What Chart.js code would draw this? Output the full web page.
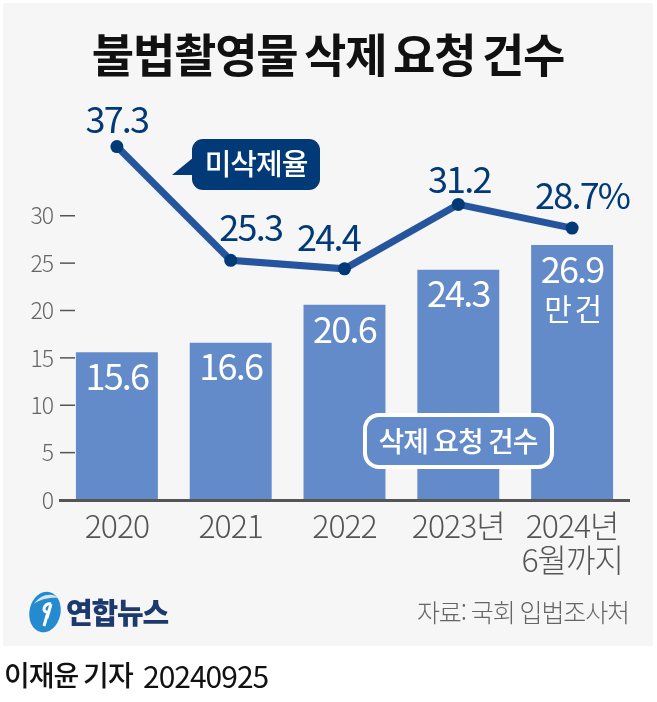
<!DOCTYPE html>
<html lang="ko">
<head>
<meta charset="utf-8">
<title>불법촬영물 삭제 요청 건수</title>
<script src="https://cdn.jsdelivr.net/npm/chart.js@4"></script>
<style>
    html, body { margin:0; padding:0; background:#fff; }
    body { width:657px; height:702px; position:relative; overflow:hidden;
           font-family:"Noto Sans CJK KR", sans-serif; }
    #panel { position:absolute; left:3px; top:3px; width:650px; height:643px; background:#f6f6f6; }
    #chart { position:absolute; left:0; top:0; }
    .txt { position:absolute; white-space:nowrap; line-height:1; }
    #title { left:0; width:656px; text-align:center; top:29px; font-size:46px; font-weight:700; color:#111; letter-spacing:-1.2px; word-spacing:-5px; }
    #source { right:28px; top:599px; font-size:25px; font-weight:300; color:#666; letter-spacing:-1.1px; word-spacing:-1px; }
    #brand { left:66px; top:597px; font-size:29px; font-weight:900; color:#1d3a6e; letter-spacing:-1.2px; }
    #byline { left:4px; top:660px; font-size:28px; font-weight:500; color:#111; letter-spacing:-1px; word-spacing:-2px; }
    #date { left:143px; top:660px; font-size:30px; font-weight:400; color:#111; letter-spacing:-1px; }
    #logo { position:absolute; left:26px; top:590px; }
</style>
</head>
<body>
<div id="panel"></div>
<canvas id="chart" width="657" height="702"></canvas>
<div class="txt" id="title">불법촬영물 삭제 요청 건수</div>
<svg id="logo" width="38" height="44" viewBox="0 0 38 44">
    <ellipse cx="19" cy="22" rx="15.5" ry="20.5" transform="rotate(12 19 22)" fill="#258bd0"/>
    <path d="M8 14 C14 4 27 2 32 8 C25 7 14 9 8 14Z" fill="#fff" opacity=".8"/>
    <path d="M25 14 C18 12 15 23 22 22 L18 36 M25 14 L21 28" fill="none" stroke="#fff" stroke-width="3"/>
</svg>
<div class="txt" id="brand">연합뉴스</div>
<div class="txt" id="source">자료: 국회 입법조사처</div>
<div class="txt" id="byline">이재윤 기자</div>
<div class="txt" id="date">20240925</div>

<script>
// =========================================
// DATA
// =========================================

const categories = ["2020", "2021", "2022", "2023년", ["2024년", "6월까지"]];
const requestCounts = [15.6, 16.6, 20.6, 24.3, 26.9];
const undeletedRates = [37.3, 25.3, 24.4, 31.2, 28.7];
const yTicks = [0, 5, 10, 15, 20, 25, 30];

const lineLabels = ["37.3", "25.3", "24.4", "31.2", "28.7%"];
const barLabels = ["15.6", "16.6", "20.6", "24.3", "26.9"];
const unitLabel = "만 건";
const lineCallout = "미삭제율";
const barCallout = "삭제 요청 건수";

// label nudges from the point, in px
const lineLabelDx = [0, 20, -16, 1, 10];
const lineLabelDy = [-27, -33, -31, -25, -33];

// =========================================
// COLORS
// =========================================

const NAVY = "#023a78";
const LINE = "#25559c";
const BAR = "#648bc9";
const FONT = '"Noto Sans CJK KR", sans-serif';

// =========================================
// PLUGINS
// =========================================

const tickMarks = {
    id: "tickMarks",
    beforeDatasetsDraw(chart) {
        const { ctx, scales, chartArea } = chart;
        ctx.save();
        ctx.strokeStyle = "#555";
        ctx.lineWidth = 1.5;
        yTicks.forEach(v => {
            const y = scales.y.getPixelForValue(v);
            ctx.beginPath();
            ctx.moveTo(chartArea.left, y);
            ctx.lineTo(chartArea.left + 15, y);
            ctx.stroke();
        });
        ctx.restore();
    }
};

const valueLabels = {
    id: "valueLabels",
    beforeDraw(chart) {
        chart.ctx.letterSpacing = "-1px";
    },
    afterDatasetsDraw(chart) {
        const { ctx } = chart;
        const barMeta = chart.getDatasetMeta(1);
        const lineMeta = chart.getDatasetMeta(0);

        ctx.save();
        ctx.textAlign = "center";
        ctx.textBaseline = "middle";

        ctx.letterSpacing = "-1.8px";
        ctx.font = "400 36px " + FONT;
        ctx.fillStyle = "#fff";
        barMeta.data.forEach((bar, i) => {
            ctx.fillText(barLabels[i], bar.x, bar.y + 24);
        });

        ctx.letterSpacing = "-2px";
        ctx.font = "400 30px " + FONT;
        const last = barMeta.data[barMeta.data.length - 1];
        ctx.fillText(unitLabel, last.x, last.y + 63);

        ctx.letterSpacing = "-1.8px";
        ctx.font = "400 36px " + FONT;
        ctx.fillStyle = NAVY;
        lineMeta.data.forEach((pt, i) => {
            ctx.fillText(lineLabels[i], pt.x + lineLabelDx[i], pt.y + lineLabelDy[i]);
        });

        ctx.letterSpacing = "-1px";

        // callout for the line
        ctx.fillStyle = NAVY;
        ctx.beginPath();
        ctx.roundRect(192, 139, 128, 51, 11);
        ctx.fill();
        ctx.beginPath();
        ctx.moveTo(172, 175);
        ctx.lineTo(194, 157);
        ctx.lineTo(194, 175);
        ctx.closePath();
        ctx.fill();
        ctx.fillStyle = "#fff";
        ctx.font = "500 29px " + FONT;
        ctx.fillText(lineCallout, 256, 164);

        // callout for the bars
        ctx.fillStyle = BAR;
        ctx.strokeStyle = "#fff";
        ctx.lineWidth = 4;
        ctx.beginPath();
        ctx.roundRect(365, 415, 187, 52, 14);
        ctx.fill();
        ctx.stroke();
        ctx.fillStyle = "#fff";
        ctx.font = "500 28px " + FONT;
        ctx.fillText(barCallout, 458, 441);

        ctx.restore();
    }
};

// =========================================
// CHART
// =========================================

const ctx = document.getElementById("chart");

new Chart(ctx, {
    data: {
        labels: categories,
        datasets: [
            {
                type: "line",
                label: lineCallout,
                data: undeletedRates,
                borderColor: LINE,
                borderWidth: 7,
                tension: 0,
                pointRadius: 6.5,
                pointBackgroundColor: NAVY,
                pointBorderWidth: 0,
                order: 1
            },
            {
                type: "bar",
                label: barCallout,
                data: requestCounts,
                backgroundColor: BAR,
                barPercentage: 0.72,
                categoryPercentage: 1,
                order: 2
            }
        ]
    },
    options: {
        responsive: false,
        animation: false,
        devicePixelRatio: 1,
        layout: { padding: { top: 121, right: 28, left: 0, bottom: 0 } },
        plugins: {
            legend: { display: false },
            tooltip: { enabled: false }
        },
        scales: {
            x: {
                offset: true,
                grid: { display: false, drawTicks: false },
                border: { color: "#555", width: 3, z: 1 },
                ticks: {
                    color: "#555",
                    padding: 9,
                    maxRotation: 0,
                    autoSkip: false,
                    font: { family: FONT, size: 32, weight: "300", lineHeight: 1.05 }
                },
                afterFit(scale) { scale.height = 202; }
            },
            y: {
                min: 0,
                max: 40,
                afterBuildTicks(scale) {
                    scale.ticks = yTicks.map(v => ({ value: v }));
                },
                grid: { display: false, drawTicks: false },
                border: { display: false },
                ticks: {
                    color: "#666",
                    padding: 7,
                    font: { family: FONT, size: 23, weight: "300" }
                },
                afterFit(scale) { scale.width = 60; }
            }
        }
    },
    plugins: [tickMarks, valueLabels]
});
</script>
</body>
</html>
